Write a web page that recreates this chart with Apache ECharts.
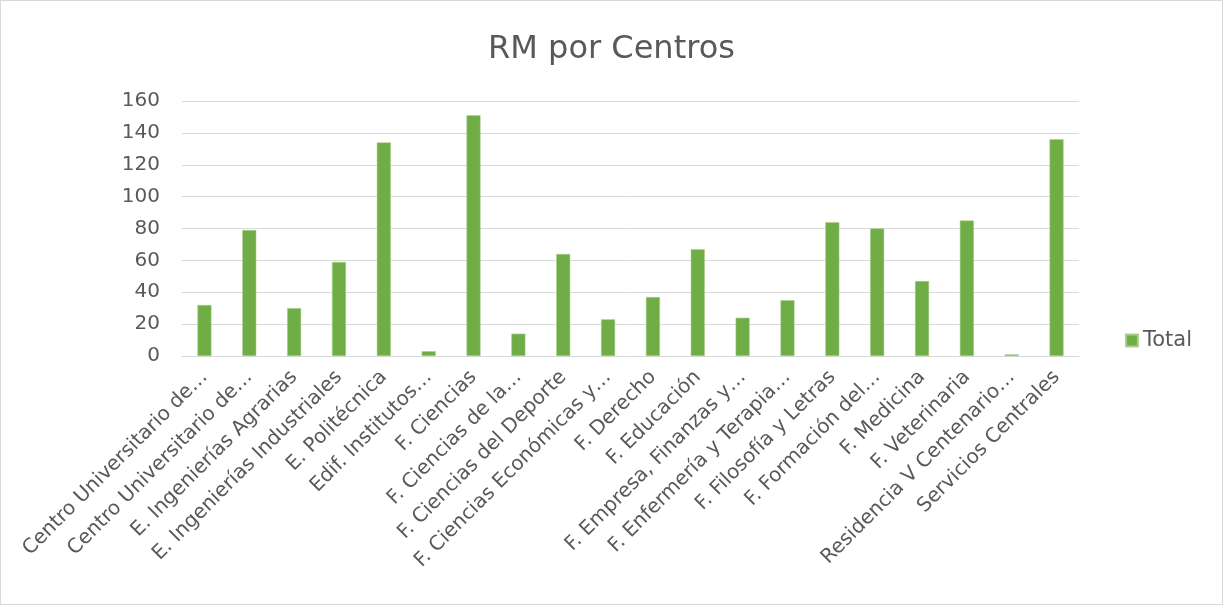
<!DOCTYPE html>
<html>
<head>
<meta charset="utf-8">
<script src="https://cdn.jsdelivr.net/npm/echarts@6/dist/echarts.min.js"></script>
<style>
  html, body { margin: 0; padding: 0; background: #ffffff; }
  #chart { width: 1221px; height: 603px; border: 1px solid #d9d9d9; }
</style>
</head>
<body>
<div id="chart"></div>
<script>
const categories = [
  "Centro Universitario de…",
  "Centro Universitario de…",
  "E. Ingenierías Agrarias",
  "E. Ingenierías Industriales",
  "E. Politécnica",
  "Edif. Institutos…",
  "F. Ciencias",
  "F. Ciencias de la…",
  "F. Ciencias del Deporte",
  "F. Ciencias Económicas y…",
  "F. Derecho",
  "F. Educación",
  "F. Empresa, Finanzas y…",
  "F. Enfermería y Terapia…",
  "F. Filosofía y Letras",
  "F. Formación del…",
  "F. Medicina",
  "F. Veterinaria",
  "Residencia V Centenario…",
  "Servicios Centrales"
];
const totals = [32, 79, 30, 59, 134, 3, 151, 14, 64, 23, 37, 67, 24, 35, 84, 80, 47, 85, 1, 136];
const yTicks = { min: 0, max: 160, interval: 20 };

const font = "'DejaVu Sans', sans-serif";
const chart = echarts.init(document.getElementById("chart"));
chart.setOption({
  backgroundColor: "#ffffff",
  animation: false,
  title: {
    text: "RM por Centros",
    left: "center",
    top: 28,
    textStyle: { fontFamily: font, fontWeight: "normal", fontSize: 32, color: "#595959" }
  },
  legend: {
    data: ["Total"],
    right: 25,
    top: 324,
    icon: "rect",
    itemWidth: 12,
    itemHeight: 12,
    itemGap: 6,
    textStyle: { fontFamily: font, fontSize: 21, color: "#595959" }
  },
  grid: { left: 181, right: 143, top: 100, bottom: 248 },
  xAxis: {
    type: "category",
    data: categories,
    axisLine: { lineStyle: { color: "#d9d9d9", width: 1 } },
    axisTick: { show: false },
    axisLabel: {
      rotate: 45,
      interval: 0,
      margin: 18,
      fontFamily: font,
      fontSize: 20,
      color: "#595959"
    }
  },
  yAxis: {
    type: "value",
    min: yTicks.min,
    max: yTicks.max,
    interval: yTicks.interval,
    axisLine: { show: false },
    axisTick: { show: false },
    axisLabel: { margin: 22, fontFamily: font, fontSize: 20, color: "#595959" },
    splitLine: { lineStyle: { color: "#d9d9d9", width: 1 } }
  },
  series: [{
    name: "Total",
    type: "bar",
    data: totals,
    barWidth: 14,
    itemStyle: { color: "#70ad47", borderColor: "#a9d18e", borderWidth: 0.5 }
  }]
});
</script>
</body>
</html>
